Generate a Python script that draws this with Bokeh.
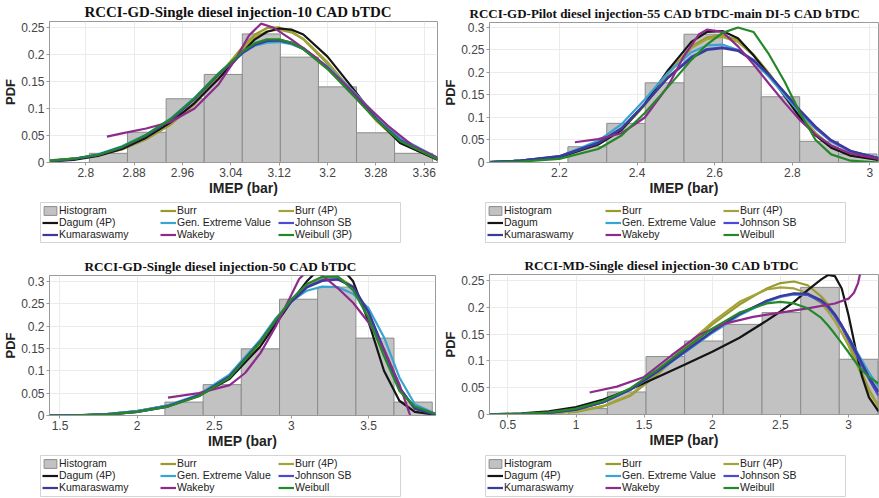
from bokeh.plotting import figure
from bokeh.models import Legend, LegendItem, FixedTicker, CustomJSTickFormatter, Range1d, Spacer
from bokeh.layouts import column, row
from bokeh.embed import file_html
from bokeh.resources import INLINE

NAN = float("nan")

# ---------------- common ----------------
COLORS = {"Burr": "#9a9a2a", "Burr (4P)": "#a3a33c", "Dagum": "#151515",
          "Gen. Extreme Value": "#38a4d2", "Johnson SB": "#4a4ad2",
          "Kumaraswamy": "#3a3a98", "Wakeby": "#8e2a8c", "Weibull": "#24882a"}

# ---------------- panel 1 ----------------
P1_TITLE = "RCCI-GD-Single diesel injection-10 CAD bTDC"
P1_LABELS = ["Histogram", "Burr", "Burr (4P)", "Dagum (4P)", "Gen. Extreme Value",
             "Johnson SB", "Kumaraswamy", "Wakeby", "Weibull (3P)"]
P1_XTICKS = [2.8, 2.88, 2.96, 3.04, 3.12, 3.2, 3.28, 3.36]
P1_YTICKS = [0, 0.05, 0.1, 0.15, 0.2, 0.25]
P1_EDGES = [2.806, 2.869, 2.933, 2.996, 3.059, 3.122, 3.185, 3.248, 3.311, 3.374]
P1_HIST = [0.017, 0.056, 0.118, 0.163, 0.238, 0.195, 0.14, 0.055, 0.017]
P1_X = [2.74, 2.78, 2.82, 2.86, 2.9, 2.94, 2.98, 3.02, 3.06, 3.08, 3.1, 3.12, 3.14, 3.16, 3.2, 3.24, 3.28, 3.32, 3.382]
P1_BURR = [0.004, 0.007, 0.013, 0.024, 0.043, 0.07, 0.108, 0.16, 0.215, 0.237, 0.249, 0.25, 0.243, 0.228, 0.183, 0.13, 0.078, 0.037, 0.005]
P1_BURR4P = [0.004, 0.007, 0.013, 0.025, 0.044, 0.072, 0.11, 0.16, 0.212, 0.232, 0.243, 0.246, 0.241, 0.229, 0.186, 0.133, 0.08, 0.038, 0.005]
P1_DAGUM = [0.002, 0.005, 0.012, 0.025, 0.046, 0.074, 0.11, 0.155, 0.205, 0.228, 0.242, 0.248, 0.246, 0.237, 0.196, 0.14, 0.082, 0.036, 0.005]
P1_GEV = [0.003, 0.007, 0.015, 0.03, 0.052, 0.081, 0.12, 0.165, 0.203, 0.216, 0.222, 0.223, 0.219, 0.21, 0.178, 0.135, 0.088, 0.046, 0.009]
P1_JSB = [0.003, 0.007, 0.014, 0.028, 0.05, 0.078, 0.117, 0.163, 0.203, 0.218, 0.225, 0.227, 0.222, 0.212, 0.176, 0.13, 0.082, 0.042, 0.007]
P1_KUMA = [0.002, 0.006, 0.014, 0.028, 0.05, 0.079, 0.118, 0.164, 0.204, 0.218, 0.225, 0.226, 0.221, 0.21, 0.175, 0.129, 0.081, 0.04, 0.006]
P1_WEIB = [0.003, 0.007, 0.014, 0.029, 0.051, 0.08, 0.119, 0.165, 0.206, 0.221, 0.228, 0.228, 0.222, 0.21, 0.173, 0.127, 0.08, 0.04, 0.006]
P1_WAKE_X = [2.835, 2.86, 2.9, 2.94, 2.98, 3.02, 3.05, 3.07, 3.09, 3.11, 3.14, 3.18, 3.22, 3.26, 3.3, 3.34, 3.382]
P1_WAKE = [0.048, 0.054, 0.063, 0.075, 0.1, 0.145, 0.195, 0.235, 0.257, 0.25, 0.228, 0.195, 0.155, 0.11, 0.068, 0.032, 0.009]

# ---------------- panel 2 ----------------
P2_TITLE = "RCCI-GD-Pilot diesel injection-55 CAD bTDC-main DI-5 CAD bTDC"
P2_LABELS = ["Histogram", "Burr", "Burr (4P)", "Dagum", "Gen. Extreme Value",
             "Johnson SB", "Kumaraswamy", "Wakeby", "Weibull"]
P2_XTICKS = [2.2, 2.4, 2.6, 2.8, 3]
P2_YTICKS = [0, 0.05, 0.1, 0.15, 0.2, 0.25, 0.3]
P2_EDGES = [2.222, 2.322, 2.421, 2.521, 2.62, 2.72, 2.819, 2.919, 3.018]
P2_HIST = [0.035, 0.087, 0.177, 0.285, 0.213, 0.146, 0.047, 0.019]
P2_X = [2.02, 2.1, 2.2, 2.3, 2.36, 2.42, 2.48, 2.54, 2.58, 2.62, 2.66, 2.7, 2.74, 2.78, 2.82, 2.86, 2.9, 2.95, 3.022]
P2_BURR = [0.001, 0.004, 0.012, 0.04, 0.072, 0.127, 0.198, 0.258, 0.278, 0.283, 0.272, 0.24, 0.198, 0.15, 0.104, 0.063, 0.035, 0.016, 0.006]
P2_BURR4P = [0.001, 0.004, 0.012, 0.041, 0.073, 0.128, 0.196, 0.254, 0.274, 0.279, 0.268, 0.238, 0.198, 0.152, 0.106, 0.066, 0.037, 0.017, 0.007]
P2_DAGUM = [0.001, 0.004, 0.012, 0.04, 0.072, 0.13, 0.205, 0.268, 0.29, 0.292, 0.276, 0.238, 0.195, 0.148, 0.1, 0.06, 0.033, 0.015, 0.006]
P2_GEV = [0.001, 0.004, 0.014, 0.048, 0.085, 0.14, 0.2, 0.245, 0.26, 0.262, 0.25, 0.225, 0.19, 0.15, 0.11, 0.075, 0.047, 0.024, 0.01]
P2_JSB = [0.001, 0.004, 0.013, 0.043, 0.075, 0.13, 0.19, 0.235, 0.252, 0.256, 0.25, 0.228, 0.195, 0.155, 0.114, 0.077, 0.048, 0.025, 0.01]
P2_KUMA = [0.001, 0.004, 0.014, 0.044, 0.076, 0.13, 0.188, 0.232, 0.25, 0.254, 0.248, 0.226, 0.195, 0.156, 0.116, 0.08, 0.05, 0.026, 0.01]
P2_WEIB = [0.0, 0.002, 0.008, 0.03, 0.06, 0.11, 0.168, 0.228, 0.262, 0.288, 0.3, 0.29, 0.24, 0.18, 0.11, 0.05, 0.018, 0.004, 0.0]
P2_WAKE_X = [2.24, 2.3, 2.36, 2.42, 2.48, 2.52, 2.56, 2.58, 2.62, 2.66, 2.7, 2.74, 2.78, 2.82, 2.86, 2.9, 2.95, 3.022]
P2_WAKE = [0.045, 0.052, 0.065, 0.1, 0.17, 0.235, 0.285, 0.295, 0.29, 0.258, 0.218, 0.175, 0.133, 0.094, 0.062, 0.038, 0.02, 0.008]

# ---------------- panel 3 ----------------
P3_TITLE = "RCCI-GD-Single diesel injection-50 CAD bTDC"
P3_LABELS = ["Histogram", "Burr", "Burr (4P)", "Dagum (4P)", "Gen. Extreme Value",
             "Johnson SB", "Kumaraswamy", "Wakeby", "Weibull"]
P3_XTICKS = [1.5, 2, 2.5, 3, 3.5]
P3_YTICKS = [0, 0.05, 0.1, 0.15, 0.2, 0.25, 0.3]
P3_EDGES = [2.18, 2.428, 2.675, 2.923, 3.17, 3.418, 3.665, 3.913]
P3_HIST = [0.03, 0.069, 0.149, 0.26, 0.287, 0.173, 0.03]
P3_X = [1.432, 1.6, 1.8, 2.0, 2.2, 2.4, 2.6, 2.8, 2.9, 3.0, 3.1, 3.2, 3.3, 3.4, 3.5, 3.6, 3.7, 3.8, 3.934]
P3_BURR = [0.0, 0.0003, 0.002, 0.008, 0.02, 0.043, 0.085, 0.163, 0.213, 0.258, 0.292, 0.309, 0.31, 0.288, 0.226, 0.138, 0.058, 0.016, 0.003]
P3_BURR4P = [0.0, 0.0004, 0.002, 0.009, 0.021, 0.044, 0.086, 0.164, 0.213, 0.257, 0.29, 0.308, 0.309, 0.287, 0.227, 0.14, 0.058, 0.015, 0.002]
P3_DAGUM = [0.0, 0.0005, 0.003, 0.01, 0.022, 0.044, 0.082, 0.155, 0.205, 0.255, 0.3, 0.335, 0.34, 0.3, 0.21, 0.1, 0.033, 0.008, 0.002]
P3_GEV = [0.0, 0.0005, 0.003, 0.01, 0.023, 0.047, 0.092, 0.17, 0.218, 0.255, 0.279, 0.288, 0.287, 0.272, 0.24, 0.175, 0.085, 0.025, 0.004]
P3_JSB = [0.0, 0.0003, 0.002, 0.008, 0.02, 0.044, 0.087, 0.166, 0.214, 0.256, 0.288, 0.303, 0.305, 0.287, 0.23, 0.145, 0.062, 0.017, 0.003]
P3_KUMA = [0.0, 0.0003, 0.002, 0.008, 0.021, 0.045, 0.088, 0.166, 0.213, 0.254, 0.286, 0.301, 0.304, 0.288, 0.232, 0.148, 0.063, 0.015, 0.001]
P3_WEIB = [0.0, 0.0003, 0.002, 0.008, 0.02, 0.043, 0.085, 0.165, 0.215, 0.26, 0.294, 0.31, 0.311, 0.28, 0.218, 0.133, 0.055, 0.02, 0.004]
P3_WAKE_X = [2.2, 2.4, 2.6, 2.7, 2.8, 2.9, 3.0, 3.05, 3.1, 3.15, 3.2, 3.3, 3.4, 3.5, 3.6, 3.7, 3.75, 3.77]
P3_WAKE = [0.04, 0.05, 0.068, 0.095, 0.14, 0.2, 0.27, 0.305, 0.322, 0.324, 0.313, 0.285, 0.252, 0.208, 0.148, 0.07, 0.02, 0.0]

# ---------------- panel 4 ----------------
P4_TITLE = "RCCI-MD-Single diesel injection-30 CAD bTDC"
P4_LABELS = ["Histogram", "Burr", "Burr (4P)", "Dagum (4P)", "Gen. Extreme Value",
             "Johnson SB", "Kumaraswamy", "Wakeby", "Weibull"]
P4_XTICKS = [0.5, 1, 1.5, 2, 2.5, 3]
P4_YTICKS = [0, 0.05, 0.1, 0.15, 0.2, 0.25]
P4_EDGES = [0.946, 1.23, 1.514, 1.797, 2.081, 2.365, 2.649, 2.932, 3.216]
P4_HIST = [0.011, 0.042, 0.108, 0.137, 0.168, 0.19, 0.237, 0.103]
P4_X = [0.365, 0.6, 0.8, 1.0, 1.2, 1.4, 1.6, 1.8, 2.0, 2.2, 2.4, 2.5, 2.6, 2.7, 2.8, 2.85, 2.9, 2.95, 3.0, 3.05, 3.1, 3.15, 3.22]
P4_BURR = [0.0, 0.0005, 0.002, 0.005, 0.015, 0.035, 0.075, 0.122, 0.168, 0.205, 0.235, 0.245, 0.248, 0.241, 0.22, 0.205, 0.186, 0.162, 0.136, 0.106, 0.076, 0.047, 0.015]
P4_BURR4P = [0.0, 0.0005, 0.002, 0.006, 0.016, 0.037, 0.078, 0.127, 0.172, 0.21, 0.233, 0.237, 0.235, 0.226, 0.207, 0.192, 0.174, 0.152, 0.128, 0.1, 0.07, 0.043, 0.015]
P4_DAGUM = [0.0005, 0.002, 0.006, 0.014, 0.028, 0.047, 0.07, 0.093, 0.117, 0.143, 0.175, 0.192, 0.21, 0.232, 0.252, 0.26, 0.258, 0.235, 0.185, 0.125, 0.07, 0.032, 0.006]
P4_GEV = [0.0, 0.001, 0.003, 0.009, 0.023, 0.046, 0.08, 0.116, 0.152, 0.185, 0.21, 0.219, 0.224, 0.223, 0.212, 0.202, 0.186, 0.166, 0.145, 0.122, 0.1, 0.078, 0.052]
P4_JSB = [0.0, 0.001, 0.003, 0.009, 0.023, 0.046, 0.08, 0.117, 0.154, 0.187, 0.212, 0.22, 0.225, 0.223, 0.21, 0.199, 0.183, 0.163, 0.14, 0.115, 0.09, 0.066, 0.035]
P4_KUMA = [0.0, 0.001, 0.003, 0.009, 0.023, 0.047, 0.081, 0.118, 0.155, 0.188, 0.212, 0.221, 0.226, 0.225, 0.213, 0.202, 0.187, 0.167, 0.144, 0.12, 0.095, 0.07, 0.042]
P4_WEIB = [0.0, 0.001, 0.004, 0.011, 0.025, 0.049, 0.084, 0.123, 0.16, 0.19, 0.207, 0.21, 0.207, 0.198, 0.18, 0.166, 0.15, 0.133, 0.116, 0.098, 0.082, 0.07, 0.058]
P4_WAKE_X = [1.1, 1.3, 1.5, 1.7, 1.9, 2.1, 2.3, 2.5, 2.7, 2.9, 3.0, 3.04, 3.07, 3.1]
P4_WAKE = [0.041, 0.052, 0.07, 0.11, 0.148, 0.17, 0.182, 0.19, 0.198, 0.207, 0.216, 0.227, 0.245, 0.28]

SANS = "Liberation Sans"
FMT = "return String(Math.round(tick*1000)/1000);"
KEYS = ["Burr", "Burr (4P)", "Dagum", "Gen. Extreme Value", "Johnson SB",
        "Kumaraswamy", "Wakeby", "Weibull"]


def make_plot(title, tsize, toff, w, h, bl, br, bt, bb, xr, yr, xticks, yticks,
              edges, hist, x, curves, wake_x, wake_y, weib):
    p = figure(width=w, height=h, output_backend="svg", toolbar_location=None,
               x_range=Range1d(*xr), y_range=Range1d(*yr),
               min_border_left=bl, min_border_right=br, min_border_top=bt,
               min_border_bottom=bb)
    p.title.text = title
    p.title.text_font = "Liberation Serif"
    p.title.text_font_size = tsize
    p.title.text_font_style = "bold"
    p.title.text_color = "#111111"
    p.title.align = "left"
    p.title.offset = toff
    p.title.standoff = 3
    p.outline_line_color = "#9a9a9a"

    p.xaxis.ticker = FixedTicker(ticks=xticks)
    p.yaxis.ticker = FixedTicker(ticks=yticks)
    for ax in (p.xaxis[0], p.yaxis[0]):
        ax.formatter = CustomJSTickFormatter(code=FMT)
        ax.major_label_text_font = SANS
        ax.major_label_text_font_size = "12px"
        ax.major_label_text_color = "#444444"
        ax.axis_label_text_font = SANS
        ax.axis_label_text_font_style = "bold"
        ax.axis_label_text_color = "#222222"
        ax.axis_line_color = "#9a9a9a"
        ax.major_tick_line_color = "#9a9a9a"
        ax.major_tick_out = 3
        ax.major_tick_in = 0
        ax.minor_tick_line_color = None
        ax.major_label_standoff = 2
        ax.axis_label_standoff = 0
    p.xaxis.axis_label = "IMEP (bar)"
    p.xaxis.axis_label_text_font_size = "14px"
    p.yaxis.axis_label = "PDF"
    p.yaxis.axis_label_text_font_size = "13px"
    p.xgrid.grid_line_color = "#ebebeb"
    p.ygrid.grid_line_color = "#ebebeb"

    p.quad(left=edges[:-1], right=edges[1:], bottom=0, top=hist,
           fill_color="#c2c2c2", line_color="#8c8c8c", line_width=1)
    for key, ys in zip(KEYS[:6], curves):
        p.line(x, ys, line_color=COLORS[key], line_width=2.2)
    p.line(wake_x, wake_y, line_color=COLORS["Wakeby"], line_width=2.2)
    p.line(x, weib, line_color=COLORS["Weibull"], line_width=2.2)
    return p


def make_legend(labels, h, ybot):
    lf = figure(width=361, height=h, output_backend="svg", toolbar_location=None,
                x_range=Range1d(0, 1), y_range=Range1d(0, 1),
                x_axis_type=None, y_axis_type=None, min_border=0,
                outline_line_color="#d4d4d4")
    # legend-key renderers only (NaN data: nothing is drawn in the box itself)
    rends = [lf.quad(left=[NAN], right=[NAN], bottom=[NAN], top=[NAN],
                     fill_color="#c2c2c2", line_color="#8c8c8c", line_width=1)]
    for key in KEYS:
        rends.append(lf.line(x=[NAN], y=[NAN], line_color=COLORS[key], line_width=2.2))
    for col, xoff in enumerate([2, 120, 238]):
        items = [LegendItem(label=labels[col + 3 * r], renderers=[rends[col + 3 * r]])
                 for r in range(3)]
        leg = Legend(items=items, location=(xoff, ybot), orientation="vertical",
                     label_text_font=SANS, label_text_font_size="10.5px",
                     label_text_color="#222222", glyph_width=16, glyph_height=11,
                     label_height=12, label_standoff=1, spacing=0, padding=0,
                     margin=0, border_line_color=None, background_fill_alpha=0)
        lf.add_layout(leg, "center")
    return lf


p1 = make_plot(P1_TITLE, "14.9px", 35, 440, 202, 43, 3, 21, 40, (2.74, 3.382), (0, 0.261),
               P1_XTICKS, P1_YTICKS, P1_EDGES, P1_HIST, P1_X,
               [P1_BURR, P1_BURR4P, P1_DAGUM, P1_GEV, P1_JSB, P1_KUMA],
               P1_WAKE_X, P1_WAKE, P1_WEIB)
p2 = make_plot(P2_TITLE, "13px", -20, 439, 202, 48, 1, 22, 40, (2.02, 3.022), (0, 0.311),
               P2_XTICKS, P2_YTICKS, P2_EDGES, P2_HIST, P2_X,
               [P2_BURR, P2_BURR4P, P2_DAGUM, P2_GEV, P2_JSB, P2_KUMA],
               P2_WAKE_X, P2_WAKE, P2_WEIB)
p3 = make_plot(P3_TITLE, "13.2px", 35, 440, 205, 43, 5, 25, 40, (1.432, 3.934), (0, 0.313),
               P3_XTICKS, P3_YTICKS, P3_EDGES, P3_HIST, P3_X,
               [P3_BURR, P3_BURR4P, P3_DAGUM, P3_GEV, P3_JSB, P3_KUMA],
               P3_WAKE_X, P3_WAKE, P3_WEIB)
p4 = make_plot(P4_TITLE, "13.2px", 35, 439, 205, 48, 1, 24, 41, (0.365, 3.22), (0, 0.261),
               P4_XTICKS, P4_YTICKS, P4_EDGES, P4_HIST, P4_X,
               [P4_BURR, P4_BURR4P, P4_DAGUM, P4_GEV, P4_JSB, P4_KUMA],
               P4_WAKE_X, P4_WAKE, P4_WEIB)

l1 = make_legend(P1_LABELS, 41, 3)
l2 = make_legend(P2_LABELS, 41, 3)
l3 = make_legend(P3_LABELS, 42, 4)
l4 = make_legend(P4_LABELS, 42, 4)

c1 = column(p1, row(Spacer(width=40, height=41), l1), Spacer(width=10, height=7))
c2 = column(p2, row(Spacer(width=45, height=41), l2), Spacer(width=10, height=7))
c3 = column(p3, row(Spacer(width=40, height=42), l3), Spacer(width=10, height=1))
c4 = column(p4, row(Spacer(width=45, height=42), l4), Spacer(width=10, height=1))

layout = column(row(c1, c2), row(c3, c4))
open("out.html", "w").write(file_html(layout, INLINE))
